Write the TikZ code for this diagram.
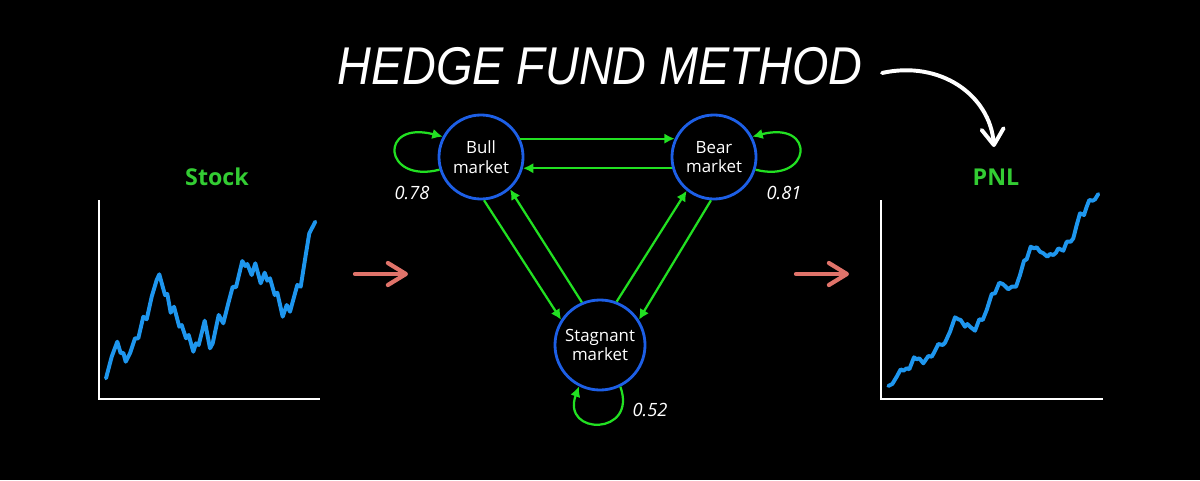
\documentclass[tikz,border=0pt]{standalone}
\usepackage{fontspec}
\usepackage{graphicx}
\setmainfont{Open Sans}
\newfontfamily\titlefont{Liberation Sans}
\definecolor{ringblue}{HTML}{1D5FE6}
\definecolor{edgegreen}{HTML}{22E022}
\definecolor{priceblue}{HTML}{1E96EE}
\definecolor{headgreen}{HTML}{33CC33}
\definecolor{flowred}{HTML}{E0736A}
\usetikzlibrary{positioning,arrows.meta}

\begin{document}
\begin{tikzpicture}[x=0.025cm, y=-0.025cm,
    state/.style={circle, draw=ringblue, line width=2pt, fill=black, text=white,
      minimum size=2.1cm, inner sep=0pt, align=center, font=\fontsize{12}{14}\selectfont},
    transedge/.style={draw=edgegreen, line width=1.6pt, -{Latex[length=2.6mm, width=2.6mm]}},
    prob/.style={text=white, font=\itshape\fontsize{13}{15}\selectfont},
    axis/.style={draw=white, line width=2pt},
    priceline/.style={draw=priceblue, line width=2.8pt, line join=round, line cap=round},
    charttitle/.style={text=headgreen, font=\bfseries\fontsize{16.5}{18}\selectfont},
    flow/.style={draw=flowred, line width=3pt, line cap=round,
      -{Straight Barb[length=4.5mm, width=5.5mm, round]}},
    pointer/.style={draw=white, line width=2.8pt, line cap=round,
      -{Straight Barb[length=4mm, width=5.5mm, round]}}]
  \fill[black] (0,0) rectangle (1200,480);
  \useasboundingbox (0,0) rectangle (1200,480);

  % title
  \node[text=white, inner sep=0pt, font=\titlefont\itshape\fontsize{37.8}{40}\selectfont]
    (title) at (600,66) {\scalebox{0.88}[1]{HEDGE FUND METHOD}};
  \coordinate (curvestart) at (882,73);
  \coordinate (curveend) at (994,147);
  \draw[pointer] (curvestart) .. controls (940,60) and (990,95) .. (curveend);

  % market states
  \node[state] (bull) at (481,157) {Bull\\market};
  \node[state] (bear) at (714,157) {Bear\\market};
  \node[state, minimum size=2.25cm] (stag) at (600,345) {Stagnant\\market};

  \draw[transedge] (bull.25) -- (bear.155);
  \draw[transedge] (bear.-165) -- (bull.-15);
  \draw[transedge] (bull.-86) -- (stag.147);
  \draw[transedge] (stag.113) -- (bull.-48);
  \draw[transedge] (stag.69) -- (bear.-129);
  \draw[transedge] (bear.-94) -- (stag.33);

  % self loops
  \draw[transedge] (bull.197) .. controls (383,184) and (378,120) .. (bull.152);
  \draw[transedge] (bear.-17) .. controls (812,184) and (817,120) .. (bear.28);
  \draw[transedge] (stag.-64) .. controls (638,436) and (561,436) .. (stag.-117);

  \node[prob] (pbull) at (412,193) {0.78};
  \node[prob] (pbear) at (784,193) {0.81};
  \node[prob] (pstag) at (650,410) {0.52};

  % stock chart
  \node[charttitle] (stocktitle) at (217,177) {Stock};
  \draw[axis] (99,200) -- (99,399) -- (320,399);
  \draw[priceline] plot coordinates {(106,378.3) (111.7,356.7) (117.3,341.7) (120.7,353.3)
    (123.3,352.7) (125.7,361.7) (130,353.3) (135,338.3) (138.3,338.3) (143.3,316.7)
    (146.7,319.3) (151.7,296.7) (156.7,280) (159.3,274.3) (162.7,286.7) (165,295)
    (167.3,294) (170.7,312.7) (174,306.7) (179.3,326.7) (181.7,325) (186,338.3)
    (188.7,335) (193.3,351.7) (196,343.3) (198.7,345) (204.7,320.7) (210,348.3)
    (212.7,343.3) (218.7,315) (223.3,323.3) (228.3,303.3) (232.7,286.7) (236,287.3)
    (242.3,261) (245.3,266) (247.3,264) (251.7,275) (255.3,263.3) (260.7,283.3)
    (264.7,272.7) (267.3,280.7) (270,278.3) (274.7,295) (277.3,292.7) (282.7,316.7)
    (286.7,305) (290,311.7) (297.3,285) (300.7,286.7) (306,253.3) (309.3,233.3)
    (315.3,221.7)};

  % flow arrows
  \coordinate (flowinA) at (355,274);
  \coordinate (flowinB) at (408,274);
  \coordinate (flowoutA) at (796,274);
  \coordinate (flowoutB) at (849,274);
  \draw[flow] (flowinA) -- (flowinB);
  \draw[flow] (flowoutA) -- (flowoutB);

  % pnl chart
  \node[charttitle] (pnltitle) at (996,177) {PNL};
  \draw[axis] (881,200) -- (881,399) -- (1103,399);
  \draw[priceline] plot coordinates {(888.3,386) (892.3,384) (896.7,376.7) (900.7,369.3)
    (903.3,370.7) (906.7,368.3) (909.3,369.3) (914,357.3) (916.7,359.3) (919.3,358.3)
    (923.3,363.3) (928.3,356) (931.7,356.7) (934,352.7) (938.3,344) (942.7,345)
    (945,342.7) (950,331.7) (955,317.3) (958.3,319.3) (960.7,320) (965,326.7)
    (967.3,324) (970,326.7) (975,330.7) (979.3,319.3) (982.7,320) (986.7,310)
    (991.7,294) (995,293.3) (999.3,282.7) (1002.7,284) (1005,286) (1008.3,289.3)
    (1011.7,286.7) (1016,286.7) (1020,275) (1024,260.7) (1026.7,259.3) (1030.7,246.7)
    (1034,248.3) (1036.7,247.3) (1040,251.7) (1043.3,253.3) (1047.3,256.7) (1050,254)
    (1053.3,255) (1056,252.7) (1058.3,248.3) (1063.3,250.7) (1066.7,241.7)
    (1070.7,241.7) (1073.3,238.3) (1076.7,225) (1080,213.3) (1084,215) (1086.7,206.7)
    (1089.3,200) (1092.7,200.7) (1095,199.3) (1098.3,194)};
\end{tikzpicture}
\end{document}
